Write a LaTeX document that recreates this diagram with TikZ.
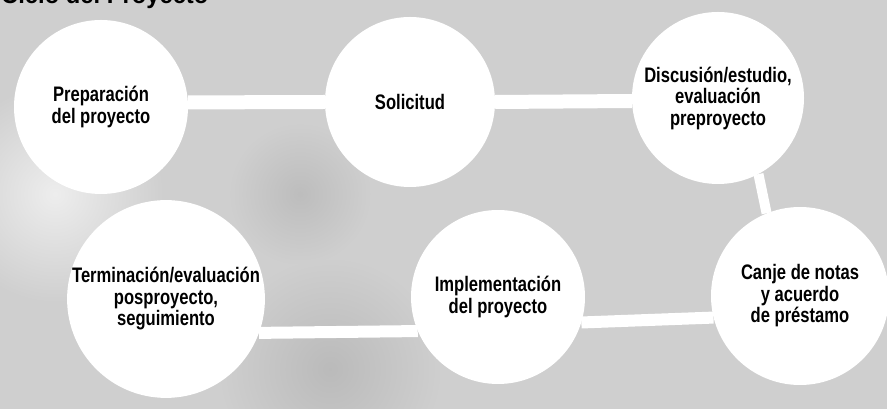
\documentclass[tikz,border=0pt]{standalone}
\usepackage{fontspec}
\setmainfont{Liberation Sans}[FakeStretch=0.79]
\newfontfamily\titlefont{Liberation Sans}[FakeStretch=0.95]
\begin{document}
\begin{tikzpicture}[x=1pt, y=1pt,
        etapa/.style={circle, fill=white, inner sep=0pt, align=center,
            font=\fontsize{21}{21.5}\selectfont\bfseries},
        enlace/.style={white, line width=14pt}]
        % 背景
        \useasboundingbox (0,0) rectangle (887,409);
        \clip (0,0) rectangle (887,409);
        \fill[black!19] (0,0) rectangle (887,409);
        \shade[inner color=black!7, outer color=black!19] (55,215) circle (110);
        \shade[inner color=black!27, outer color=black!19] (330,40) circle (110);
        \shade[inner color=black!26, outer color=black!19] (300,215) circle (70);
        
        % 标题
        \node[anchor=base west, inner sep=0pt,
            font=\titlefont\fontsize{25}{25}\selectfont\bfseries] (titulo) at (1,405) {Ciclo del Proyecto};
        
        % 上排
        \node[etapa, minimum size=174] (prep) at (101,302) {Preparación\\del proyecto};
        \node[etapa, minimum size=170] (solic) at (410,307) {Solicitud};
        \node[etapa, minimum size=172] (discu) at (718,311) {Discusión/estudio,\\evaluación\\preproyecto};
        
        % 下排
        \node[etapa, minimum size=180] (termi) at (166,110) {Terminación/evaluación\\posproyecto,\\seguimiento};
        \node[etapa, minimum size=174] (impl) at (498,112) {Implementación\\del proyecto};
        \node[etapa, minimum size=178] (canje) at (800,113) {Canje de notas\\y acuerdo\\de préstamo};
        
        % 连线
        \draw[enlace] (prep.3) -- (solic.180);
        \draw[enlace] (solic.0) -- (discu.182);
        \draw[enlace, line width=10pt] (discu.-62) -- (canje.112);
        \draw[enlace, line width=12pt] (canje.194) -- (impl.-17);
        \draw[enlace, line width=12pt] (impl.203) -- (termi.-20);
    \end{tikzpicture}
\end{document}
